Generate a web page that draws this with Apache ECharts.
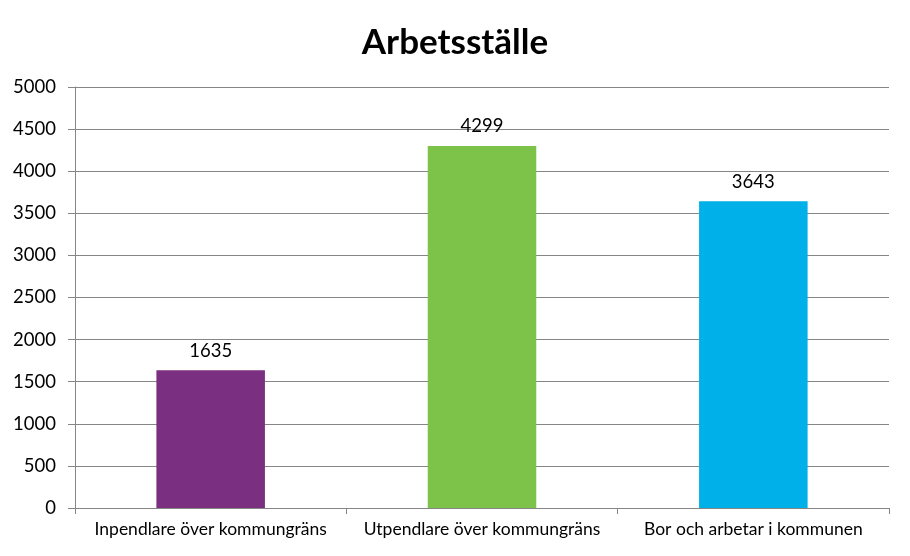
<!DOCTYPE html>
<html><head><meta charset="utf-8">
<script src="https://cdn.jsdelivr.net/npm/echarts@6/dist/echarts.min.js"></script>
<style>html,body{margin:0;padding:0;background:#fff}#c{width:910px;height:556px}</style>
</head><body><div id="c"></div>
<script>
const categories = ["Inpendlare över kommungräns", "Utpendlare över kommungräns", "Bor och arbetar i kommunen"];
const values = [1635, 4299, 3643];
const barColors = ["#7B2F80", "#7DC34A", "#00B0E8"];
const chart = echarts.init(document.getElementById('c'));
chart.setOption({
  animation: false,
  title: { text: "Arbetsställe", left: 'center', top: 20, textStyle: { fontFamily: 'Lato', fontWeight: 'bold', fontSize: 35, color: '#000' } },
  grid: { left: 75, right: 21, top: 87, bottom: 48, containLabel: false },
  xAxis: {
    type: 'category', data: categories,
    axisLine: { lineStyle: { color: '#868686', width: 1 } },
    axisTick: { show: true, length: 6, alignWithLabel: false, lineStyle: { color: '#868686' } },
    axisLabel: { color: '#000', fontFamily: 'Lato', fontSize: 17.5, margin: 12, interval: 0, hideOverlap: false }
  },
  yAxis: {
    type: 'value', min: 0, max: 5000, interval: 500,
    axisLine: { show: true, lineStyle: { color: '#868686' } },
    axisTick: { show: true, length: 7, lineStyle: { color: '#868686' } },
    splitLine: { lineStyle: { color: '#868686' } },
    axisLabel: { color: '#000', fontFamily: 'Lato', fontSize: 18.5, margin: 19, formatter: v => String(v) }
  },
  series: [{
    type: 'bar', barWidth: '40%',
    data: values.map((v, i) => ({ value: v, itemStyle: { color: barColors[i] } })),
    label: { show: true, position: 'top', distance: 10, color: '#000', fontFamily: 'Lato', fontSize: 18.5 }
  }]
});
</script></body></html>
